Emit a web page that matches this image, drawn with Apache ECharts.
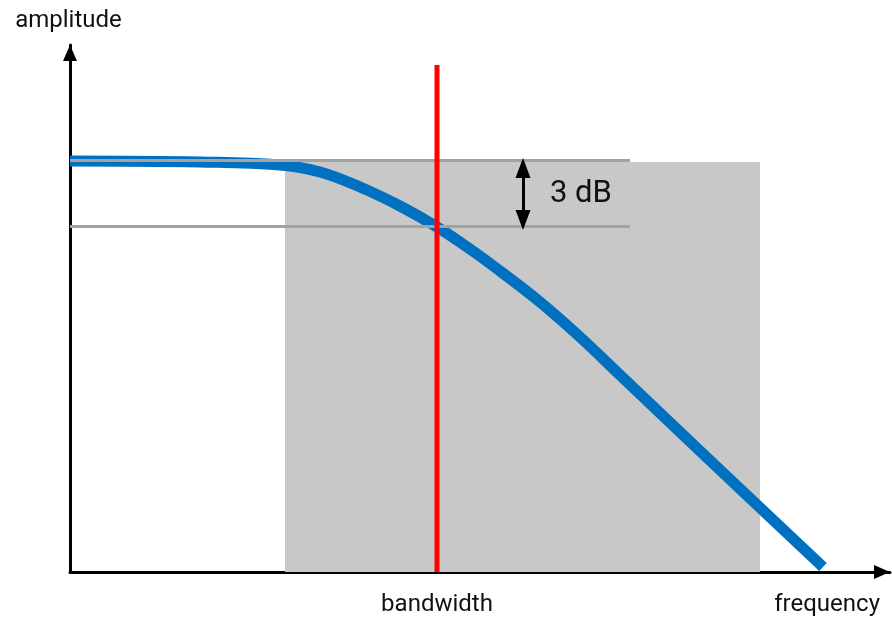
<!DOCTYPE html>
<html>
<head>
<meta charset="utf-8">
<script src="https://cdn.jsdelivr.net/npm/echarts@6/dist/echarts.min.js"></script>
<style>html,body{margin:0;padding:0;background:#fff}#c{width:892px;height:617px}</style>
</head>
<body>
<div id="c"></div>
<script>
// Frequency response (arbitrary units)
const freq = [0, 130, 210, 250, 290, 330, 367, 400, 430, 470, 510, 550, 630, 753];
const amp  = [411, 410, 407, 400, 385, 366, 345, 323, 301, 270, 235, 197, 121, 5];
const bandwidthX = 367;
const bandRange = [215, 690];     // shaded region (frequency)
const bandTop = 410;              // shaded region top (amplitude)
const refLevel = 412;             // passband level
const level3dB = 346;             // -3 dB level
const levelLineEnd = 560;
const redTop = 507;
const arrowX = 453;
const axisMax = { x: 820, y: 527 };
const texts = { x: 'frequency', y: 'amplitude', bw: 'bandwidth', db: '3 dB' };

const FONT = 'Roboto';
const chart = echarts.init(document.getElementById('c'));
chart.setOption({
  animation: false,
  grid: { left: 70, right: 2, top: 45, bottom: 45, containLabel: false },
  xAxis: {
    type: 'value', min: 0, max: axisMax.x,
    splitLine: { show: false }, axisTick: { show: false },
    axisLine: { show: true, lineStyle: { color: '#000', width: 3 }, symbol: ['none', 'triangle'], symbolSize: [14, 16], symbolOffset: [0, -8] },
    axisLabel: { show: true, customValues: [bandwidthX], formatter: () => texts.bw, color: '#111', fontFamily: FONT, fontSize: 24, margin: 21 },
    name: texts.x, nameLocation: 'end', nameGap: -10,
    nameTextStyle: { color: '#111', fontFamily: FONT, fontSize: 24, align: 'right', verticalAlign: 'top', padding: [21, 0, 0, 0] }
  },
  yAxis: {
    type: 'value', min: 0, max: axisMax.y,
    splitLine: { show: false }, axisTick: { show: false }, axisLabel: { show: false },
    axisLine: { show: true, lineStyle: { color: '#000', width: 3 }, symbol: ['none', 'triangle'], symbolSize: [14, 16], symbolOffset: [0, -8] },
    name: texts.y, nameLocation: 'end', nameGap: 24,
    nameTextStyle: { color: '#111', fontFamily: FONT, fontSize: 24, align: 'center', verticalAlign: 'middle', padding: [0, 3, 0, 0] }
  },
  series: [
    {
      type: 'line', data: [], z: 1, silent: true,
      markArea: { silent: true, itemStyle: { color: '#c8c8c8' },
        data: [[{ coord: [bandRange[0], 0] }, { coord: [bandRange[1], bandTop] }]] },
      markLine: { silent: true, symbol: 'none', label: { show: false },
        lineStyle: { color: '#a3a3a3', width: 3, type: 'solid' },
        data: [[{ coord: [0, level3dB] }, { coord: [levelLineEnd, level3dB] }]] }
    },
    {
      type: 'line', data: freq.map((f, i) => [f, amp[i]]), smooth: 0.4, showSymbol: false, symbol: 'none', z: 3,
      lineStyle: { color: '#0070c0', width: 11, cap: 'butt' }
    },
    {
      type: 'line', data: [], z: 4, silent: true,
      markLine: { silent: true, symbol: 'none', label: { show: false },
        lineStyle: { color: '#a3a3a3', width: 3, type: 'solid' },
        data: [[{ coord: [0, refLevel] }, { coord: [levelLineEnd, refLevel] }]] }
    },
    {
      type: 'line', data: [[bandwidthX, 0], [bandwidthX, redTop]], showSymbol: false, symbol: 'none', z: 5,
      lineStyle: { color: '#ff0000', width: 5 }
    },
    {
      type: 'line', data: [], z: 6, silent: true,
      markLine: { silent: true, symbol: ['triangle', 'triangle'], symbolSize: [15, 20], symbolOffset: [0, 0],
        lineStyle: { color: '#000', width: 3, type: 'solid' },
        label: { show: false },
        data: [[{ coord: [arrowX, bandTop - 6] }, { coord: [arrowX, level3dB + 6] }]] },
      markPoint: { silent: true, symbol: 'circle', symbolSize: 0,
        label: { show: true, position: 'right', distance: 27, formatter: texts.db, color: '#111',
          fontFamily: FONT, fontSize: 31 },
        data: [{ coord: [arrowX, (bandTop + level3dB) / 2] }] }
    }
  ]
});
</script>
</body>
</html>
